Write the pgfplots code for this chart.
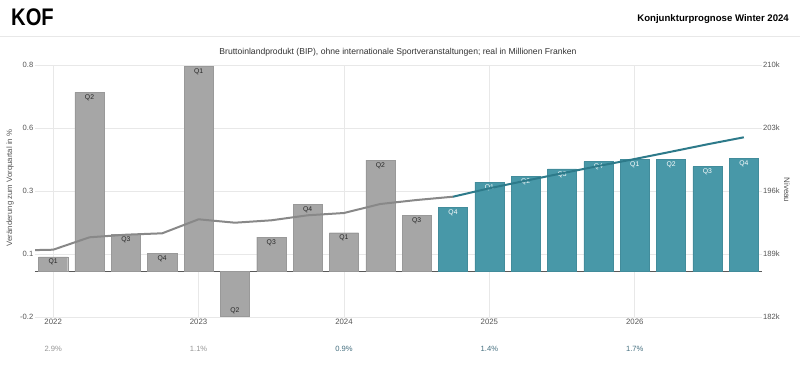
\documentclass[border=0pt]{standalone}
\usepackage{pgfplots}
\usepackage{pgfplotstable}
\pgfplotsset{compat=1.18}
\usepackage{fontspec}
\setmainfont{Liberation Sans}
\definecolor{barGrey}{RGB}{166,166,166}
\definecolor{barTeal}{RGB}{72,152,168}
\definecolor{lineTeal}{RGB}{45,122,138}
\definecolor{lineGrey}{RGB}{136,136,136}
\definecolor{gridC}{RGB}{232,232,232}
\definecolor{tickC}{RGB}{85,85,85}
\definecolor{pctGrey}{RGB}{150,150,150}
\definecolor{pctTeal}{RGB}{70,112,128}

\pgfplotstableread{
x y lab
0 0.056 Q1
1 0.709 Q2
2 0.146 Q3
3 0.069 Q4
4 0.813 Q1
6 0.134 Q3
7 0.265 Q4
8 0.152 Q1
9 0.440 Q2
10 0.222 Q3
}\greypos
\pgfplotstableread{
x y lab
5 -0.179 Q2
}\greyneg
\pgfplotstableread{
x y lab
11 0.253 Q4
12 0.353 Q1
13 0.376 Q2
14 0.405 Q3
15 0.434 Q4
16 0.443 Q1
17 0.443 Q2
18 0.414 Q3
19 0.447 Q4
}\tealbars
\pgfplotstableread{
x y
-1 189389
0 189478
1 190856
2 191144
3 191300
4 192856
5 192478
6 192744
7 193300
8 193556
9 194556
10 195000
11 195367
}\levhist
\pgfplotstableread{
x y
11 195367
12 196300
13 197144
14 197967
15 198778
16 199556
17 200367
18 201189
19 201967
}\levfc

\begin{document}
\begin{tikzpicture}[x=1pt,y=1pt]
\path[use as bounding box] (0,0) rectangle (800,376);
\fill[white] (0,0) rectangle (800,376);
% header
\node[anchor=base west, inner sep=0pt] at (11,351) {\scalebox{0.84}[1]{\fontsize{24}{24}\selectfont\bfseries KOF}};
\node[anchor=base east, inner sep=0pt] at (789,354.3) {\fontsize{9.6}{10}\selectfont\bfseries Konjunkturprognose Winter 2024};
\draw[color=gridC, line width=0.8pt] (0,340) -- (800,340);
\node[anchor=center, inner sep=0pt, text=black!80] at (398,324) {\fontsize{8.6}{9}\selectfont Bruttoinlandprodukt (BIP), ohne internationale Sportveranstaltungen; real in Millionen Franken};
\node[rotate=90, inner sep=0pt, text=tickC] at (10,188) {\fontsize{7.8}{8}\selectfont Veränderung zum Vorquartal in \%};
\node[rotate=-90, inner sep=0pt, text=tickC] at (787,186) {\fontsize{8}{8}\selectfont Niveau};

\begin{axis}[
  at={(35pt,59pt)}, anchor=south west, scale only axis,
  width=727pt, height=252pt,
  xmin=-0.5, xmax=19.5, ymin=-0.1825, ymax=0.8175,
  axis line style={draw=none}, major tick length=0pt,
  ytick={-0.1825,0.0675,0.3175,0.5675,0.8175},
  yticklabels={-0.2,0.1,0.3,0.6,0.8},
  xtick={0,4,8,12,16}, xticklabels={2022,2023,2024,2025,2026},
  ymajorgrids, xmajorgrids, grid style={color=gridC, line width=0.6pt},
  extra y ticks={0}, extra y tick labels={},
  extra y tick style={grid style={color=black!65, line width=0.8pt}},
  /pgf/number format/assume math mode=true,
  yticklabel style={font=\fontsize{7.6}{8}\selectfont, text=tickC, inner sep=1.5pt},
  xticklabel style={font=\fontsize{7.8}{8}\selectfont, text=tickC, inner sep=1pt, yshift=-0.5pt},
  clip=false,
]
\addplot[ybar, bar width=0.8, bar shift=0pt, fill=barGrey, draw=barGrey!92!black,
  nodes near coords, point meta=explicit symbolic,
  nodes near coords style={anchor=north, yshift=-1.6pt, inner sep=0.5pt, font=\fontsize{6.8}{7}\selectfont, text=black!85}]
  table[x=x, y=y, meta=lab]{\greypos};
\addplot[ybar, bar width=0.8, bar shift=0pt, fill=barGrey, draw=barGrey!92!black,
  nodes near coords, point meta=explicit symbolic,
  nodes near coords style={anchor=south, yshift=1.6pt, inner sep=0.5pt, font=\fontsize{6.8}{7}\selectfont, text=black!85}]
  table[x=x, y=y, meta=lab]{\greyneg};
\addplot[ybar, bar width=0.8, bar shift=0pt, fill=barTeal, draw=barTeal!92!black,
  nodes near coords, point meta=explicit symbolic,
  nodes near coords style={anchor=north, yshift=-1.6pt, inner sep=0.5pt, font=\fontsize{6.8}{7}\selectfont, text=white}]
  table[x=x, y=y, meta=lab]{\tealbars};
\node[text=pctGrey, font=\fontsize{7.6}{8}\selectfont] at ([yshift=-32pt]axis cs:0,-0.1825) {2.9\%};
\node[text=pctGrey, font=\fontsize{7.6}{8}\selectfont] at ([yshift=-32pt]axis cs:4,-0.1825) {1.1\%};
\node[text=pctTeal, font=\fontsize{7.6}{8}\selectfont] at ([yshift=-32pt]axis cs:8,-0.1825) {0.9\%};
\node[text=pctTeal, font=\fontsize{7.6}{8}\selectfont] at ([yshift=-32pt]axis cs:12,-0.1825) {1.4\%};
\node[text=pctTeal, font=\fontsize{7.6}{8}\selectfont] at ([yshift=-32pt]axis cs:16,-0.1825) {1.7\%};
\end{axis}

\begin{axis}[
  at={(35pt,59pt)}, anchor=south west, scale only axis,
  width=727pt, height=252pt,
  xmin=-0.5, xmax=19.5, ymin=182000, ymax=210000,
  axis y line*=right, axis x line=none,
  axis line style={draw=none}, major tick length=0pt,
  scaled y ticks=false,
  ytick={182000,189000,196000,203000,210000},
  yticklabels={182k,189k,196k,203k,210k},
  /pgf/number format/assume math mode=true,
  yticklabel style={font=\fontsize{7.6}{8}\selectfont, text=tickC, inner sep=1pt},
]
\addplot[line width=2pt, color=lineGrey, no marks, line join=round] table[x=x, y=y]{\levhist};
\addplot[line width=2pt, color=lineTeal, no marks, line join=round] table[x=x, y=y]{\levfc};
\end{axis}
\end{tikzpicture}
\end{document}
